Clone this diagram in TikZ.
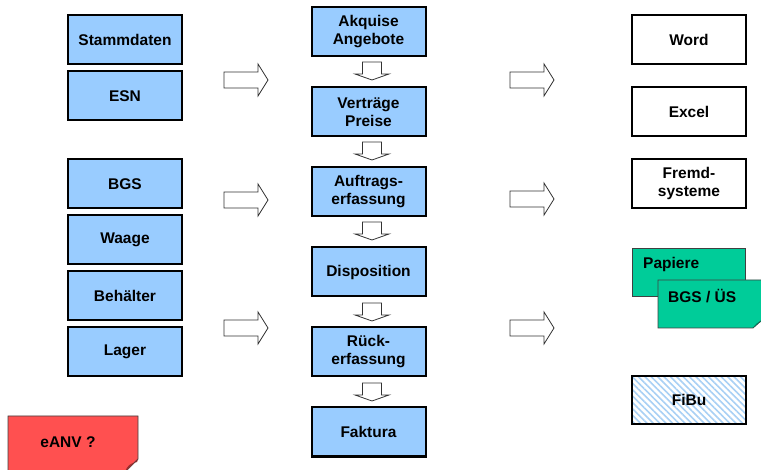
\documentclass[tikz,border=0pt]{standalone}
\usepackage{fontspec}
\setmainfont{Liberation Sans}
\usetikzlibrary{patterns.meta}
\definecolor{boxblue}{HTML}{99CCFF}
\definecolor{notegreen}{HTML}{00CC99}
\definecolor{notered}{HTML}{FF5050}
\definecolor{hatchblue}{HTML}{A8D0F5}
\begin{document}
\begin{tikzpicture}[x=1pt,y=-1pt,
  txt/.style={font=\fontsize{15.5}{18}\selectfont\bfseries, align=center},
  bluebox/.style={draw=black, line width=2pt, fill=boxblue, minimum width=114pt, minimum height=49pt, inner sep=0pt, txt},
  whitebox/.style={draw=black, line width=2pt, fill=white, minimum width=114pt, minimum height=49pt, inner sep=0pt, txt},
  hatchbox/.style={draw=black, line width=2pt, minimum width=114pt, minimum height=48pt, inner sep=0pt, txt,
     pattern={Lines[angle=-45,distance=4.5pt,line width=1.6pt]}, pattern color=hatchblue},
  rarrow/.pic={\draw[draw=black!80, line width=0.8pt, fill=white]
      (0,-8) -- (34,-8) -- (34,-16) -- (44,0) -- (34,16) -- (34,8) -- (0,8) -- cycle;},
  darrow/.pic={\draw[draw=black!80, line width=0.8pt, fill=white]
      (-9.5,0) -- (9.5,0) -- (9.5,12) -- (17,12) -- (0,18) -- (-17,12) -- (-9.5,12) -- cycle;},
  notetext/.style={font=\fontsize{15.5}{18}\selectfont\bfseries, inner sep=0pt}
]
\useasboundingbox[fill=white] (0,0) rectangle (761,470);

% left column
\node[bluebox] (stamm) at (125,39.5) {Stammdaten};
\node[bluebox] (esn) at (125,96) {ESN};
\node[bluebox] (bgs) at (125,184) {BGS};
\node[bluebox] (waage) at (125,239.5) {Waage};
\node[bluebox] (beh) at (125,295.5) {Behälter};
\node[bluebox] (lager) at (125,351.5) {Lager};

% middle column
\node[bluebox] (akq) at (368.5,32) {Akquise\\Angebote};
\node[bluebox] (vert) at (368.5,112) {Verträge\\Preise};
\node[bluebox] (auft) at (368.5,192) {Auftrags-\\erfassung};
\node[bluebox] (disp) at (368.5,272) {Disposition};
\node[bluebox] (rueck) at (368.5,352) {Rück-\\erfassung};
\node[bluebox] (fakt) at (368.5,432) {Faktura};

% right column
\node[whitebox] (word) at (689,39.5) {Word};
\node[whitebox] (excel) at (689,112) {Excel};
\node[whitebox] (fremd) at (689,183.5) {Fremd-\\systeme};
\node[hatchbox] (fibu) at (689,400) {FiBu};

% block arrows left -> middle
\pic at (224,80) {rarrow};
\pic at (224,200) {rarrow};
\pic at (224,328) {rarrow};
% block arrows middle -> right
\pic at (510,80) {rarrow};
\pic at (510,199) {rarrow};
\pic at (510,328) {rarrow};
% down arrows
\pic at (372,62) {darrow};
\pic at (372,142) {darrow};
\pic at (372,222) {darrow};
\pic at (372,303) {darrow};
\pic at (372,383) {darrow};

% green notes
\draw[draw=black!75, line width=0.8pt, fill=notegreen] (632,248) rectangle (745,296);
\node[notetext, anchor=west] (pap) at (643,264) {Papiere};
\draw[draw=black!75, line width=0.8pt, fill=notegreen]
  (658,280) -- (762,280) -- (762,320) -- (753,328) -- (658,328) -- cycle;
\fill[notegreen!60!black] (762,320) -- (753,328) .. controls (756,324) and (757,322) .. (761,322) -- cycle;
\node[notetext, anchor=west] (bgsue) at (668,296) {BGS / ÜS};

% red note
\draw[draw=black!75, line width=0.8pt, fill=notered]
  (8,416) -- (138,416) -- (138,459) -- (125,472) -- (8,472) -- cycle;
\fill[notered!60!black] (138,459) -- (125,472) .. controls (127,466) and (130,463) .. (137,462) -- cycle;
\node[notetext] (eanv) at (68,442) {eANV ?};
\end{tikzpicture}
\end{document}
